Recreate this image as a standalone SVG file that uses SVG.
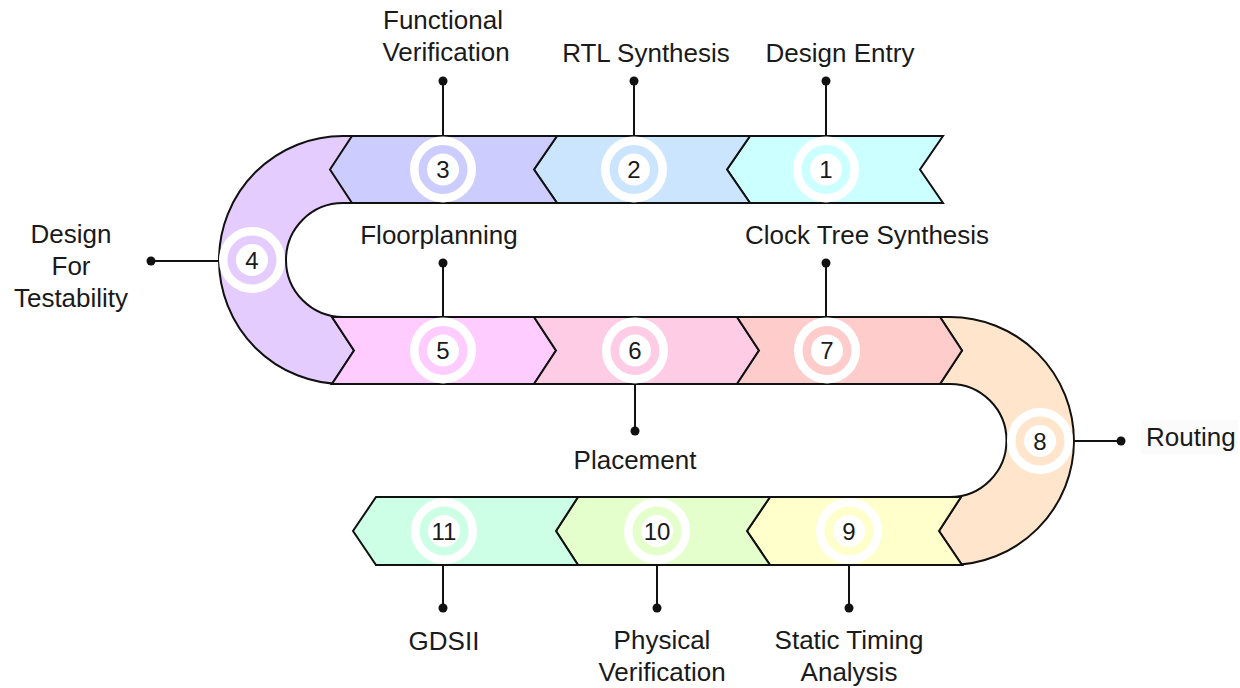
<svg xmlns="http://www.w3.org/2000/svg" width="1240" height="688" viewBox="0 0 1240 688">
<style>
.seg{stroke:#111;stroke-width:2;stroke-linejoin:miter}
.ring{stroke:#fff;stroke-width:8.5}
.core{fill:#fff}
.num{font-family:"Liberation Sans",Arial,sans-serif;font-size:24px;fill:#1a1a1a;text-anchor:middle;dominant-baseline:central}
.lbl{font-family:"Liberation Sans",Arial,sans-serif;font-size:26px;fill:#1a1a1a;text-anchor:middle}
.con line{stroke:#111;stroke-width:2}
.con circle{fill:#111}
</style>
<rect width="1240" height="688" fill="#fff"/>
<g id="node4">
<path class="seg" fill="#E5CCFF" d="M353,136 L343,136 A124,124 0 0 0 343,384 L332,384 L354,350.5 L332,317 L343,317 A57,57 0 0 1 343,203 L353,203 L331,169.5 Z"/>
<circle class="ring" cx="252" cy="260" r="28.75" fill="#E5CCFF"/><circle class="core" cx="252" cy="260" r="16"/>
<text class="num" x="252" y="260">4</text>
<text class="lbl"><tspan x="71" y="243">Design</tspan><tspan x="71" y="275">For</tspan><tspan x="71" y="307">Testability</tspan></text>
</g>
<g id="node8">
<path class="seg" fill="#FFE5CC" d="M940,317 L950,317 A124,124 0 0 1 950,565 L962,565 L939,531 L961,497 L950,497 A56.5,56.5 0 0 0 950,384 L940,384 L962,350.5 Z"/>
<circle class="ring" cx="1040" cy="441" r="28.75" fill="#FFE5CC"/><circle class="core" cx="1040" cy="441" r="16"/>
<text class="num" x="1040" y="441">8</text>
<rect x="1141" y="420" width="97" height="34" fill="#fbfbfb"/>
<text class="lbl" x="1146" y="446" style="text-anchor:start">Routing</text>
</g>
<g id="node1">
<path class="seg" fill="#CCFFFF" d="M750,136 L943,136 L920,169.5 L943,203 L750,203 L727,169.5 Z"/>
<circle class="ring" cx="826" cy="169.5" r="28.75" fill="#CCFFFF"/><circle class="core" cx="826" cy="169.5" r="16"/>
<text class="num" x="826" y="169.5">1</text>
<text class="lbl" x="840" y="62">Design Entry</text>
</g>
<g id="node2">
<path class="seg" fill="#CCE5FF" d="M557,136 L750,136 L727,169.5 L750,203 L557,203 L534,169.5 Z"/>
<circle class="ring" cx="634" cy="169.5" r="28.75" fill="#CCE5FF"/><circle class="core" cx="634" cy="169.5" r="16"/>
<text class="num" x="634" y="169.5">2</text>
<text class="lbl" x="646" y="62">RTL Synthesis</text>
</g>
<g id="node3">
<path class="seg" fill="#CCCCFF" d="M352,136 L557,136 L534,169.5 L557,203 L352,203 L330,169.5 Z"/>
<circle class="ring" cx="443" cy="169.5" r="28.75" fill="#CCCCFF"/><circle class="core" cx="443" cy="169.5" r="16"/>
<text class="num" x="443" y="169.5">3</text>
<text class="lbl"><tspan x="443" y="29">Functional</tspan><tspan x="446" y="61">Verification</tspan></text>
</g>
<g id="node5">
<path class="seg" fill="#FFCCFF" d="M332,317 L534,317 L556,350.5 L534,384 L332,384 L354,350.5 Z"/>
<circle class="ring" cx="443" cy="350.5" r="28.75" fill="#FFCCFF"/><circle class="core" cx="443" cy="350.5" r="16"/>
<text class="num" x="443" y="350.5">5</text>
<text class="lbl" x="439" y="244">Floorplanning</text>
</g>
<g id="node6">
<path class="seg" fill="#FFCCE5" d="M534,317 L737,317 L759,350.5 L737,384 L534,384 L556,350.5 Z"/>
<circle class="ring" cx="635" cy="350.5" r="28.75" fill="#FFCCE5"/><circle class="core" cx="635" cy="350.5" r="16"/>
<text class="num" x="635" y="350.5">6</text>
<text class="lbl" x="635" y="469">Placement</text>
</g>
<g id="node7">
<path class="seg" fill="#FFCCCC" d="M737,317 L940,317 L962,350.5 L940,384 L737,384 L759,350.5 Z"/>
<circle class="ring" cx="827" cy="350.5" r="28.75" fill="#FFCCCC"/><circle class="core" cx="827" cy="350.5" r="16"/>
<text class="num" x="827" y="350.5">7</text>
<text class="lbl" x="867" y="244">Clock Tree Synthesis</text>
</g>
<g id="node9">
<path class="seg" fill="#FFFFCC" d="M770,497 L961,497 L939,531 L962,565 L770,565 L747,531 Z"/>
<circle class="ring" cx="849" cy="531" r="28.75" fill="#FFFFCC"/><circle class="core" cx="849" cy="531" r="16"/>
<text class="num" x="849" y="531">9</text>
<text class="lbl"><tspan x="849" y="649">Static Timing</tspan><tspan x="849" y="681">Analysis</tspan></text>
</g>
<g id="node10">
<path class="seg" fill="#E5FFCC" d="M578,497 L770,497 L747,531 L770,565 L578,565 L556,531 Z"/>
<circle class="ring" cx="657" cy="531" r="28.75" fill="#E5FFCC"/><circle class="core" cx="657" cy="531" r="16"/>
<text class="num" x="657" y="531">10</text>
<text class="lbl"><tspan x="662" y="649">Physical</tspan><tspan x="662" y="681">Verification</tspan></text>
</g>
<g id="node11">
<path class="seg" fill="#CCFFE5" d="M376,497 L578,497 L556,531 L578,565 L376,565 L353,531 Z"/>
<circle class="ring" cx="444" cy="531" r="28.75" fill="#CCFFE5"/><circle class="core" cx="444" cy="531" r="16"/>
<text class="num" x="444" y="531">11</text>
<text class="lbl" x="444" y="650">GDSII</text>
</g>
<g id="connectors" class="con">
<line x1="826" y1="81" x2="826" y2="136"/><circle cx="826" cy="81" r="4.5"/>
<line x1="634" y1="81" x2="634" y2="136"/><circle cx="634" cy="81" r="4.5"/>
<line x1="443" y1="81" x2="443" y2="136"/><circle cx="443" cy="81" r="4.5"/>
<line x1="151" y1="261" x2="219" y2="261"/><circle cx="151" cy="261" r="4.5"/>
<line x1="443" y1="263" x2="443" y2="317"/><circle cx="443" cy="263" r="4.5"/>
<line x1="826" y1="263" x2="826" y2="317"/><circle cx="826" cy="263" r="4.5"/>
<line x1="635" y1="384" x2="635" y2="431"/><circle cx="635" cy="431" r="4.5"/>
<line x1="1074" y1="441" x2="1121" y2="441"/><circle cx="1121" cy="441" r="4.5"/>
<line x1="849" y1="565" x2="849" y2="608"/><circle cx="849" cy="608" r="4.5"/>
<line x1="657" y1="565" x2="657" y2="608"/><circle cx="657" cy="608" r="4.5"/>
<line x1="443" y1="565" x2="443" y2="608"/><circle cx="443" cy="608" r="4.5"/>
</g>
</svg>
